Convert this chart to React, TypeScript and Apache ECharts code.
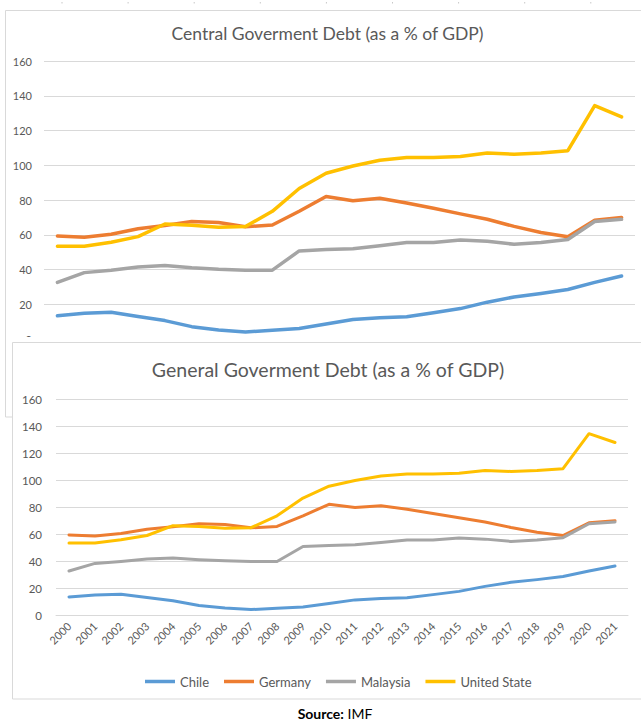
import React, { useEffect, useRef } from "react";
import * as echarts from "echarts";

const years = ["2000","2001","2002","2003","2004","2005","2006","2007","2008","2009","2010","2011","2012","2013","2014","2015","2016","2017","2018","2019","2020","2021"];
const yTicks = [0, 20, 40, 60, 80, 100, 120, 140, 160];
const chile = [13.4, 14.8, 15.4, 12.9, 10.6, 7.1, 5.2, 4.0, 5.0, 6.0, 8.6, 11.2, 12.2, 12.8, 15.1, 17.5, 21.2, 24.2, 26.2, 28.5, 32.6, 36.3];
const germany = [59.3, 58.5, 60.3, 63.5, 65.3, 67.6, 67.0, 64.6, 65.6, 73.5, 82.0, 79.6, 81.0, 78.3, 75.2, 72.0, 68.9, 64.8, 61.3, 58.9, 68.3, 69.9];
const malaysia = [32.6, 38.2, 39.6, 41.4, 42.3, 41.0, 40.1, 39.6, 39.6, 50.7, 51.5, 52.0, 53.7, 55.5, 55.5, 57.0, 56.2, 54.5, 55.5, 57.3, 67.6, 68.9];
const unitedState = [53.4, 53.4, 55.7, 58.9, 66.2, 65.5, 64.3, 64.7, 73.5, 86.6, 95.4, 99.6, 102.9, 104.4, 104.5, 105.0, 107.1, 106.3, 107.1, 108.4, 134.3, 127.8];
const seriesNames = ["Chile", "Germany", "Malaysia", "United State"];
const colors = ["#5b9bd5", "#ed7d31", "#a5a5a5", "#ffc000"];
const titleTop = "Central Goverment Debt (as a % of GDP)";
const titleBottom = "General Goverment Debt (as a % of GDP)";

export default function App() {
  const ref = useRef<HTMLDivElement>(null);
  useEffect(() => {
    if (!ref.current) return;
    const chart = echarts.init(ref.current, null, { renderer: "svg" });
    const values = [chile, germany, malaysia, unitedState];
    const font = "Lato, 'Open Sans', sans-serif";
    const grey = "#595959";
    const gridColor = "#d9d9d9";

    const mkSeries = (idx: number, z: number, width: number) =>
      seriesNames.map((name, i) => ({
        name,
        type: "line",
        xAxisIndex: idx,
        yAxisIndex: idx,
        data: values[i],
        showSymbol: false,
        symbol: "none",
        z,
        color: colors[i],
        itemStyle: { color: colors[i] },
        lineStyle: { color: colors[i], width, cap: "round", join: "round" },
      }));

    const dots = [0, 1, 2, 3, 4, 5, 6, 7, 8].map((i) => ({
      type: "rect",
      z: 1,
      shape: { x: 61.5 + i * 66.1, y: 2, width: 1, height: 1.5 },
      style: { fill: "#c8c8c8" },
    }));

    const yAxisBase = (z: number, size: number, margin: number) => ({
      type: "value",
      min: yTicks[0],
      max: yTicks[yTicks.length - 1],
      interval: 20,
      z,
      axisLine: { show: false },
      axisTick: { show: false },
      axisLabel: { color: grey, fontSize: size, fontFamily: font, margin },
      splitLine: { lineStyle: { color: gridColor, width: 1 } },
    });

    chart.setOption({
      animation: false,
      backgroundColor: "#ffffff",
      grid: [
        { left: 44, right: 6, top: 61, bottom: 381 },
        { left: 56, right: 13, top: 399, bottom: 105 },
      ],
      xAxis: [
        {
          type: "category",
          gridIndex: 0,
          data: years,
          boundaryGap: true,
          z: 0,
          axisTick: { show: false },
          axisLabel: { show: false },
          axisLine: { lineStyle: { color: gridColor } },
        },
        {
          type: "category",
          gridIndex: 1,
          data: years,
          boundaryGap: true,
          z: 60,
          axisTick: { show: false },
          axisLine: { lineStyle: { color: gridColor } },
          axisLabel: { color: grey, fontSize: 11, fontFamily: font, rotate: 45, interval: 0, margin: 9 },
        },
      ],
      yAxis: [
        { ...yAxisBase(0, 11, 12), gridIndex: 0 },
        { ...yAxisBase(60, 11.5, 14), gridIndex: 1 },
      ],
      legend: {
        data: seriesNames,
        left: 140,
        top: 670,
        z: 60,
        icon: "rect",
        itemWidth: 30,
        itemHeight: 3.5,
        itemGap: 15,
        textStyle: { color: grey, fontSize: 13, fontFamily: font },
      },
      graphic: [
        ...dots,
        {
          type: "rect",
          z: 1,
          shape: { x: 5.5, y: 10.5, width: 700, height: 406.5 },
          style: { fill: "none", stroke: gridColor, lineWidth: 1 },
        },
        {
          type: "text",
          z: 1,
          style: {
            text: titleTop,
            x: 327.5,
            y: 33,
            align: "center",
            verticalAlign: "middle",
            fill: grey,
            font: "17.5px Lato, 'Open Sans', sans-serif",
          },
        },
        {
          type: "rect",
          z: 50,
          shape: { x: 8, y: 337, width: 700, height: 6 },
          style: { fill: "#ffffff" },
        },
        {
          type: "rect",
          z: 50,
          shape: { x: 12.5, y: 342.5, width: 700, height: 356.5 },
          style: { fill: "#ffffff", stroke: gridColor, lineWidth: 1 },
        },
        {
          type: "text",
          z: 60,
          style: {
            text: titleBottom,
            x: 328,
            y: 369.5,
            align: "center",
            verticalAlign: "middle",
            fill: grey,
            font: "19.5px Lato, 'Open Sans', sans-serif",
          },
        },
        {
          type: "text",
          z: 60,
          style: {
            text: "{b|Source:} IMF",
            x: 335,
            y: 713,
            align: "center",
            verticalAlign: "middle",
            fill: "#000000",
            font: "14px Lato, 'Open Sans', sans-serif",
            rich: {
              b: { fontWeight: "bold", fontSize: 14, fontFamily: font, fill: "#000000" },
            },
          },
        },
      ],
      series: [...mkSeries(0, 2, 3.5), ...mkSeries(1, 60, 3)],
    } as any);
    return () => chart.dispose();
  }, []);
  return (
    <div
      ref={ref}
      style={{ position: "absolute", left: 0, top: 0, width: 641, height: 720 }}
    />
  );
}
